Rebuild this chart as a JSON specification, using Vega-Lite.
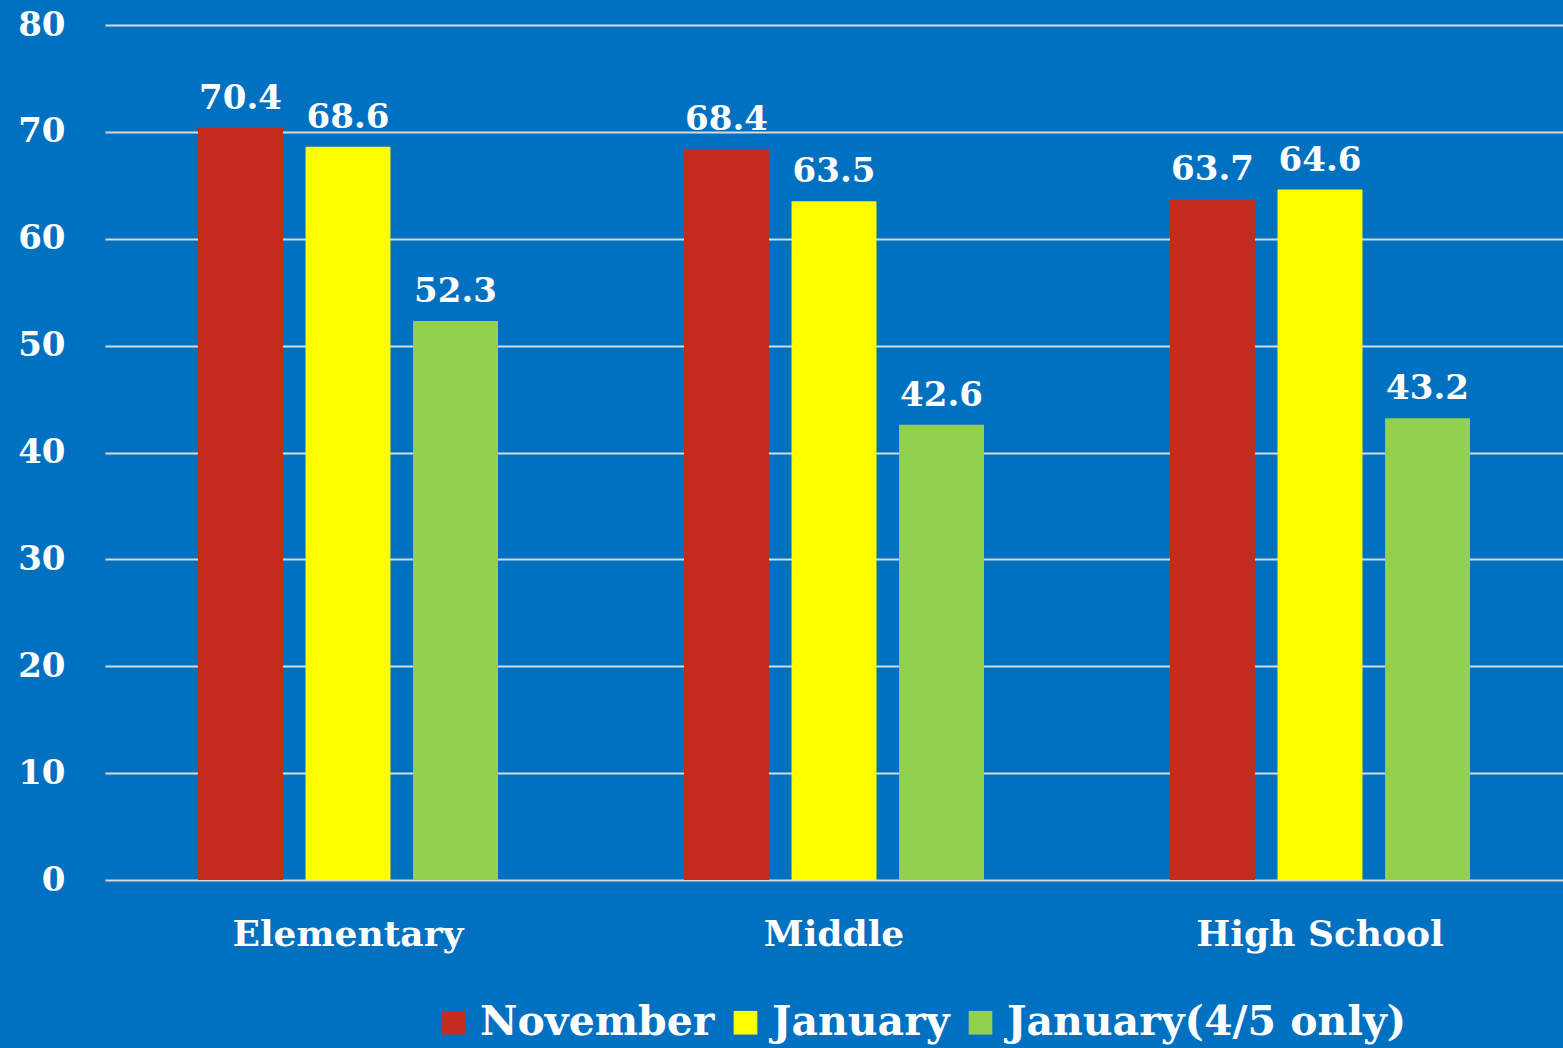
{
  "$schema": "https://vega.github.io/schema/vega-lite/v6.json",
  "width": 1458,
  "height": 855,
  "autosize": {"type": "none"},
  "padding": {"left": 105, "top": 25, "right": 0, "bottom": 168},
  "background": "#0070C0",
  "config": {
    "view": {"stroke": null},
    "font": "DejaVu Serif"
  },
  "data": {
    "values": [
      {"level": "Elementary", "period": "November", "value": 70.4},
      {"level": "Elementary", "period": "January", "value": 68.6},
      {"level": "Elementary", "period": "January(4/5 only)", "value": 52.3},
      {"level": "Middle", "period": "November", "value": 68.4},
      {"level": "Middle", "period": "January", "value": 63.5},
      {"level": "Middle", "period": "January(4/5 only)", "value": 42.6},
      {"level": "High School", "period": "November", "value": 63.7},
      {"level": "High School", "period": "January", "value": 64.6},
      {"level": "High School", "period": "January(4/5 only)", "value": 43.2}
    ]
  },
  "encoding": {
    "x": {
      "field": "level", "type": "nominal", "sort": ["Elementary", "Middle", "High School"],
      "scale": {"paddingInner": 0, "paddingOuter": 0},
      "axis": {"title": null, "labelAngle": 0, "labelColor": "white", "labelFontSize": 36, "labelFontWeight": "bold", "labelPadding": 37, "labelLimit": 0, "domain": false, "ticks": false, "labelFont": "DejaVu Serif"}
    },
    "xOffset": {
      "field": "period", "type": "nominal", "sort": ["November", "January", "January(4/5 only)"],
      "scale": {"paddingInner": 0.21, "paddingOuter": 0.865}
    },
    "y": {
      "field": "value", "type": "quantitative",
      "scale": {"domain": [0, 80], "nice": false},
      "axis": {"title": null, "values": [0,10,20,30,40,50,60,70,80], "labelColor": "white", "labelFontSize": 34, "labelFontWeight": "bold", "labelPadding": 40, "domain": false, "ticks": false, "gridColor": "#D9D9D9", "gridWidth": 2, "labelFont": "DejaVu Serif"}
    }
  },
  "layer": [
    {
      "mark": {"type": "bar"},
      "encoding": {
        "color": {
          "field": "period", "type": "nominal",
          "scale": {"domain": ["November", "January", "January(4/5 only)"], "range": ["#C42B1C", "#FFFF00", "#92D050"]},
          "legend": {
            "title": null, "orient": "none", "direction": "horizontal",
            "legendX": 328, "legendY": 977,
            "labelColor": "white", "labelFontSize": 41, "labelFontWeight": "bold", "labelFont": "DejaVu Serif",
            "symbolType": "square", "symbolSize": 560, "symbolStrokeWidth": 0, "symbolOpacity": 1,
            "columnSpacing": 26, "labelOffset": 6, "labelLimit": 600
          }
        }
      }
    },
    {
      "mark": {"type": "text", "baseline": "bottom", "dy": -12, "color": "white", "fontSize": 34, "fontWeight": "bold", "font": "DejaVu Serif"},
      "encoding": {
        "text": {"field": "value", "type": "quantitative", "format": ".1f"}
      }
    }
  ]
}
